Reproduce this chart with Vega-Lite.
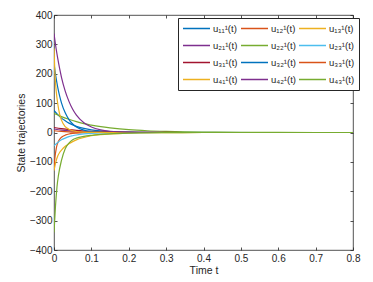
{
 "$schema": "https://vega.github.io/schema/vega-lite/v6.json",
 "autosize": "none",
 "width": 299,
 "height": 235,
 "padding": {"left": 54, "top": 15, "right": 20, "bottom": 32},
 "background": "white",
 "config": {
  "font": "Liberation Sans",
  "view": {"stroke": "#262626", "strokeWidth": 0.8},
  "axis": {"grid": false, "domain": false, "tickSize": -3, "tickColor": "#262626", "tickWidth": 0.8, "labelColor": "#262626", "labelFontSize": 10, "labelFlush": false, "titleColor": "#262626", "titleFontSize": 10.5, "titleFontWeight": "normal", "labelFont": "Liberation Sans", "titleFont": "Liberation Sans"}
 },
 "data": {"values": [
  {"s":"u₁₁¹(t)","t":0,"v":75},{"s":"u₁₁¹(t)","t":0.01,"v":61},{"s":"u₁₁¹(t)","t":0.02,"v":49},{"s":"u₁₁¹(t)","t":0.03,"v":40},{"s":"u₁₁¹(t)","t":0.04,"v":32},{"s":"u₁₁¹(t)","t":0.05,"v":26},{"s":"u₁₁¹(t)","t":0.06,"v":21},{"s":"u₁₁¹(t)","t":0.08,"v":14},{"s":"u₁₁¹(t)","t":0.1,"v":9},{"s":"u₁₁¹(t)","t":0.125,"v":5.4},{"s":"u₁₁¹(t)","t":0.15,"v":3.2},{"s":"u₁₁¹(t)","t":0.2,"v":1.1},{"s":"u₁₁¹(t)","t":0.25,"v":0.4},{"s":"u₁₁¹(t)","t":0.3,"v":0.1},{"s":"u₁₁¹(t)","t":0.8,"v":0},
  {"s":"u₁₂¹(t)","t":0,"v":-120},{"s":"u₁₂¹(t)","t":0.003,"v":-80},{"s":"u₁₂¹(t)","t":0.006,"v":-55},{"s":"u₁₂¹(t)","t":0.008,"v":-43},{"s":"u₁₂¹(t)","t":0.012,"v":-30},{"s":"u₁₂¹(t)","t":0.017,"v":-20},{"s":"u₁₂¹(t)","t":0.025,"v":-12},{"s":"u₁₂¹(t)","t":0.03,"v":-9},{"s":"u₁₂¹(t)","t":0.04,"v":-5},{"s":"u₁₂¹(t)","t":0.05,"v":-3},{"s":"u₁₂¹(t)","t":0.06,"v":-2},{"s":"u₁₂¹(t)","t":0.08,"v":-0.8},{"s":"u₁₂¹(t)","t":0.1,"v":-0.3},{"s":"u₁₂¹(t)","t":0.15,"v":0},{"s":"u₁₂¹(t)","t":0.8,"v":0},
  {"s":"u₁₃¹(t)","t":0,"v":-130},{"s":"u₁₃¹(t)","t":0.005,"v":-100},{"s":"u₁₃¹(t)","t":0.01,"v":-80},{"s":"u₁₃¹(t)","t":0.015,"v":-68},{"s":"u₁₃¹(t)","t":0.02,"v":-60},{"s":"u₁₃¹(t)","t":0.03,"v":-47},{"s":"u₁₃¹(t)","t":0.04,"v":-38},{"s":"u₁₃¹(t)","t":0.05,"v":-31},{"s":"u₁₃¹(t)","t":0.06,"v":-25},{"s":"u₁₃¹(t)","t":0.08,"v":-17},{"s":"u₁₃¹(t)","t":0.1,"v":-11},{"s":"u₁₃¹(t)","t":0.125,"v":-7},{"s":"u₁₃¹(t)","t":0.15,"v":-4.5},{"s":"u₁₃¹(t)","t":0.2,"v":-1.8},{"s":"u₁₃¹(t)","t":0.25,"v":-0.7},{"s":"u₁₃¹(t)","t":0.3,"v":-0.3},{"s":"u₁₃¹(t)","t":0.4,"v":0},{"s":"u₁₃¹(t)","t":0.8,"v":0},
  {"s":"u₂₁¹(t)","t":0,"v":12},{"s":"u₂₁¹(t)","t":0.02,"v":8},{"s":"u₂₁¹(t)","t":0.04,"v":5.4},{"s":"u₂₁¹(t)","t":0.06,"v":3.6},{"s":"u₂₁¹(t)","t":0.08,"v":2.4},{"s":"u₂₁¹(t)","t":0.1,"v":1.6},{"s":"u₂₁¹(t)","t":0.15,"v":0.6},{"s":"u₂₁¹(t)","t":0.2,"v":0.2},{"s":"u₂₁¹(t)","t":0.3,"v":0},{"s":"u₂₁¹(t)","t":0.8,"v":0},
  {"s":"u₂₂¹(t)","t":0,"v":65},{"s":"u₂₂¹(t)","t":0.02,"v":54},{"s":"u₂₂¹(t)","t":0.04,"v":45},{"s":"u₂₂¹(t)","t":0.06,"v":37},{"s":"u₂₂¹(t)","t":0.08,"v":30},{"s":"u₂₂¹(t)","t":0.1,"v":25},{"s":"u₂₂¹(t)","t":0.125,"v":20},{"s":"u₂₂¹(t)","t":0.15,"v":16},{"s":"u₂₂¹(t)","t":0.2,"v":9.7},{"s":"u₂₂¹(t)","t":0.25,"v":6},{"s":"u₂₂¹(t)","t":0.3,"v":3.8},{"s":"u₂₂¹(t)","t":0.35,"v":2.3},{"s":"u₂₂¹(t)","t":0.4,"v":1.5},{"s":"u₂₂¹(t)","t":0.5,"v":0.6},{"s":"u₂₂¹(t)","t":0.6,"v":0.2},{"s":"u₂₂¹(t)","t":0.8,"v":0},
  {"s":"u₂₃¹(t)","t":0,"v":-45},{"s":"u₂₃¹(t)","t":0.01,"v":-34},{"s":"u₂₃¹(t)","t":0.02,"v":-25},{"s":"u₂₃¹(t)","t":0.03,"v":-19},{"s":"u₂₃¹(t)","t":0.04,"v":-14},{"s":"u₂₃¹(t)","t":0.05,"v":-11},{"s":"u₂₃¹(t)","t":0.06,"v":-8.5},{"s":"u₂₃¹(t)","t":0.08,"v":-5},{"s":"u₂₃¹(t)","t":0.1,"v":-3},{"s":"u₂₃¹(t)","t":0.125,"v":-1.7},{"s":"u₂₃¹(t)","t":0.15,"v":-1},{"s":"u₂₃¹(t)","t":0.2,"v":-0.3},{"s":"u₂₃¹(t)","t":0.25,"v":0},{"s":"u₂₃¹(t)","t":0.8,"v":0},
  {"s":"u₃₁¹(t)","t":0,"v":17},{"s":"u₃₁¹(t)","t":0.02,"v":13},{"s":"u₃₁¹(t)","t":0.04,"v":9.5},{"s":"u₃₁¹(t)","t":0.06,"v":7},{"s":"u₃₁¹(t)","t":0.08,"v":5.1},{"s":"u₃₁¹(t)","t":0.1,"v":3.8},{"s":"u₃₁¹(t)","t":0.125,"v":2.6},{"s":"u₃₁¹(t)","t":0.15,"v":1.8},{"s":"u₃₁¹(t)","t":0.2,"v":0.8},{"s":"u₃₁¹(t)","t":0.25,"v":0.4},{"s":"u₃₁¹(t)","t":0.3,"v":0.2},{"s":"u₃₁¹(t)","t":0.4,"v":0},{"s":"u₃₁¹(t)","t":0.8,"v":0},
  {"s":"u₃₂¹(t)","t":0,"v":235},{"s":"u₃₂¹(t)","t":0.005,"v":190},{"s":"u₃₂¹(t)","t":0.01,"v":154},{"s":"u₃₂¹(t)","t":0.015,"v":125},{"s":"u₃₂¹(t)","t":0.02,"v":101},{"s":"u₃₂¹(t)","t":0.03,"v":67},{"s":"u₃₂¹(t)","t":0.04,"v":44},{"s":"u₃₂¹(t)","t":0.05,"v":29},{"s":"u₃₂¹(t)","t":0.06,"v":19},{"s":"u₃₂¹(t)","t":0.08,"v":8.1},{"s":"u₃₂¹(t)","t":0.1,"v":3.5},{"s":"u₃₂¹(t)","t":0.125,"v":1.2},{"s":"u₃₂¹(t)","t":0.15,"v":0.4},{"s":"u₃₂¹(t)","t":0.2,"v":0},{"s":"u₃₂¹(t)","t":0.8,"v":0},
  {"s":"u₃₃¹(t)","t":0,"v":6},{"s":"u₃₃¹(t)","t":0.02,"v":3.6},{"s":"u₃₃¹(t)","t":0.04,"v":2.2},{"s":"u₃₃¹(t)","t":0.06,"v":1.3},{"s":"u₃₃¹(t)","t":0.1,"v":0.5},{"s":"u₃₃¹(t)","t":0.15,"v":0.1},{"s":"u₃₃¹(t)","t":0.2,"v":0},{"s":"u₃₃¹(t)","t":0.8,"v":0},
  {"s":"u₄₁¹(t)","t":0,"v":286},{"s":"u₄₁¹(t)","t":0.003,"v":190},{"s":"u₄₁¹(t)","t":0.006,"v":140},{"s":"u₄₁¹(t)","t":0.01,"v":98},{"s":"u₄₁¹(t)","t":0.015,"v":63},{"s":"u₄₁¹(t)","t":0.02,"v":42},{"s":"u₄₁¹(t)","t":0.03,"v":20},{"s":"u₄₁¹(t)","t":0.04,"v":11},{"s":"u₄₁¹(t)","t":0.05,"v":6},{"s":"u₄₁¹(t)","t":0.06,"v":3.5},{"s":"u₄₁¹(t)","t":0.08,"v":1.2},{"s":"u₄₁¹(t)","t":0.1,"v":0.4},{"s":"u₄₁¹(t)","t":0.15,"v":0},{"s":"u₄₁¹(t)","t":0.8,"v":0},
  {"s":"u₄₂¹(t)","t":0,"v":337},{"s":"u₄₂¹(t)","t":0.005,"v":291},{"s":"u₄₂¹(t)","t":0.01,"v":252},{"s":"u₄₂¹(t)","t":0.015,"v":218},{"s":"u₄₂¹(t)","t":0.02,"v":188},{"s":"u₄₂¹(t)","t":0.03,"v":141},{"s":"u₄₂¹(t)","t":0.04,"v":106},{"s":"u₄₂¹(t)","t":0.05,"v":79},{"s":"u₄₂¹(t)","t":0.06,"v":59},{"s":"u₄₂¹(t)","t":0.08,"v":33},{"s":"u₄₂¹(t)","t":0.1,"v":18.5},{"s":"u₄₂¹(t)","t":0.125,"v":9},{"s":"u₄₂¹(t)","t":0.15,"v":4.3},{"s":"u₄₂¹(t)","t":0.2,"v":1},{"s":"u₄₂¹(t)","t":0.25,"v":0.2},{"s":"u₄₂¹(t)","t":0.3,"v":0},{"s":"u₄₂¹(t)","t":0.8,"v":0},
  {"s":"u₄₃¹(t)","t":0,"v":-340},{"s":"u₄₃¹(t)","t":0.004,"v":-250},{"s":"u₄₃¹(t)","t":0.008,"v":-185},{"s":"u₄₃¹(t)","t":0.012,"v":-145},{"s":"u₄₃¹(t)","t":0.02,"v":-95},{"s":"u₄₃¹(t)","t":0.03,"v":-55},{"s":"u₄₃¹(t)","t":0.04,"v":-36},{"s":"u₄₃¹(t)","t":0.05,"v":-25},{"s":"u₄₃¹(t)","t":0.06,"v":-19},{"s":"u₄₃¹(t)","t":0.08,"v":-13},{"s":"u₄₃¹(t)","t":0.1,"v":-9.5},{"s":"u₄₃¹(t)","t":0.125,"v":-6.5},{"s":"u₄₃¹(t)","t":0.15,"v":-4.5},{"s":"u₄₃¹(t)","t":0.2,"v":-2.2},{"s":"u₄₃¹(t)","t":0.25,"v":-1},{"s":"u₄₃¹(t)","t":0.3,"v":-0.5},{"s":"u₄₃¹(t)","t":0.4,"v":0},{"s":"u₄₃¹(t)","t":0.8,"v":0}
 ]},
 "layer": [
  {
   "mark": {"type": "line", "interpolate": "monotone", "strokeWidth": 1.2, "clip": true},
   "encoding": {
    "x": {"field": "t", "type": "quantitative", "scale": {"domain": [0, 0.8], "nice": false, "zero": false, "padding": 0}, "axis": {"orient": "bottom", "values": [0,0.1,0.2,0.3,0.4,0.5,0.6,0.7,0.8], "format": "~g", "title": "Time t", "labelPadding": 6, "titlePadding": 2}},
    "y": {"field": "v", "type": "quantitative", "scale": {"domain": [-400, 400], "nice": false, "padding": 0}, "axis": {"orient": "left", "values": [-400,-300,-200,-100,0,100,200,300,400], "title": "State trajectories", "labelPadding": 5, "titlePadding": 3}},
    "color": {"field": "s", "type": "nominal",
     "scale": {"domain": ["u₁₁¹(t)","u₁₂¹(t)","u₁₃¹(t)","u₂₁¹(t)","u₂₂¹(t)","u₂₃¹(t)","u₃₁¹(t)","u₃₂¹(t)","u₃₃¹(t)","u₄₁¹(t)","u₄₂¹(t)","u₄₃¹(t)"],
               "range": ["#0072BD","#D95319","#EDB120","#7E2F8E","#77AC30","#4DBEEE","#A2142F","#0072BD","#D95319","#EDB120","#7E2F8E","#77AC30"]},
     "legend": {"orient": "none", "legendX": 124, "legendY": 3, "direction": "horizontal", "columns": 3, "title": null, "symbolType": "stroke", "symbolSize": 729, "symbolStrokeWidth": 1.5, "labelFontSize": 9.5, "labelColor": "#262626", "labelOffset": 2, "columnPadding": 2, "rowPadding": 4, "clipHeight": 13, "strokeColor": "#262626", "fillColor": "white", "padding": 4}
    }
   }
  },
  {
   "mark": {"type": "line", "strokeOpacity": 0},
   "encoding": {
    "x": {"field": "t", "type": "quantitative", "scale": {"domain": [0, 0.8], "nice": false, "zero": false, "padding": 0}, "axis": {"orient": "top", "values": [0,0.1,0.2,0.3,0.4,0.5,0.6,0.7,0.8], "labels": false, "title": null}},
    "y": {"field": "v", "type": "quantitative", "scale": {"domain": [-400, 400], "nice": false, "padding": 0}, "axis": {"orient": "right", "values": [-400,-300,-200,-100,0,100,200,300,400], "labels": false, "title": null}},
    "detail": {"field": "s", "type": "nominal"}
   }
  }
 ],
 "resolve": {"axis": {"x": "independent", "y": "independent"}}
}
